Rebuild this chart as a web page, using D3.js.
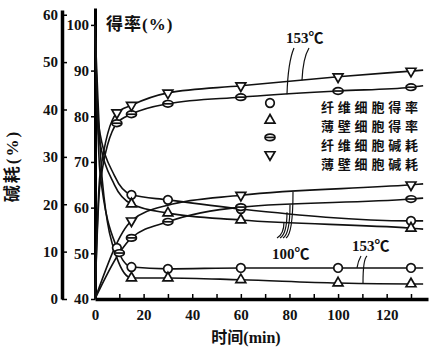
<!DOCTYPE html>
<html>
<head>
<meta charset="utf-8">
<script src="https://cdnjs.cloudflare.com/ajax/libs/d3/7.8.5/d3.min.js"></script>
<style>
  body { margin: 0; background: #fff; }
  text { fill: #111; }
</style>
</head>
<body>
<svg id="chart"></svg>
<script>
// time (min) and values
// 得率 (right-hand scale, 40-100 %)
const tYieldFiber153 = [0, 2, 9, 15, 30, 60, 100, 130, 135];
const vYieldFiber153 = [100, 68, 51.2, 47.0, 46.6, 46.8, 46.8, 46.8, 46.8];
const tYieldThin153 = [0, 3, 9, 15, 30, 60, 100, 130, 135];
const vYieldThin153 = [100, 66, 49, 44.6, 44.6, 44.2, 43.5, 43.3, 43.3];
const tYieldFiber100 = [0, 1.5, 8, 15, 30, 60, 130, 135];
const vYieldFiber100 = [100, 78, 67, 62.8, 61.7, 59.7, 57.1, 57.1];
const tYieldThin100 = [0, 1.5, 8, 15, 30, 60, 130, 135];
const vYieldThin100 = [100, 76, 65, 60.8, 58.8, 57.3, 55.5, 55.3];
// 碱耗 (left-hand scale, 0-60 %)
const tAlkFiber153 = [0, 2, 9, 15, 30, 60, 100, 130, 135];
const vAlkFiber153 = [0, 24, 37.1, 39.0, 41.2, 42.6, 43.9, 44.7, 45.0];
const tAlkThin153 = [0, 2, 9, 15, 30, 60, 100, 130, 135];
const vAlkThin153 = [0, 26, 39.3, 40.9, 43.5, 45.0, 46.9, 48.1, 48.3];
const tAlkFiber100 = [0, 10, 15, 30, 60, 130, 135];
const vAlkFiber100 = [0, 9.7, 12.9, 16.3, 19.4, 21.1, 21.3];
const tAlkThin100 = [0, 15, 30, 60, 130, 135];
const vAlkThin100 = [0, 16.5, 19.8, 21.9, 24.1, 24.3];

// times where a marker is printed
const markFull = [9, 15, 30, 60, 100, 130];
const mark153Thin = [15, 30, 60, 100, 130];
const mark100 = [15, 30, 60, 130];
const mark100AlkFiber = [10, 15, 30, 60, 130];
const mark100AlkThin = [15, 60, 130];

const leftTicks = [0, 10, 20, 30, 40, 50, 60];
const rightTicks = [40, 50, 60, 70, 80, 90, 100];
const xTicks = [0, 10, 20, 30, 40, 50, 60, 70, 80, 90, 100, 110, 120, 130];

const legendNames = ["纤维细胞得率", "薄壁细胞得率", "纤维细胞碱耗", "薄壁细胞碱耗"];
const legendShapes = ["circle", "up", "half", "down"];

const width = 432, height = 352;
const svg = d3.select("#chart").attr("width", width).attr("height", height);

const x = d3.scaleLinear().domain([0, 137]).range([95, 428]);
const yL = d3.scaleLinear().domain([0, 61]).range([299, 10]);
const yR = d3.scaleLinear().domain([40, 103.7]).range([299, 8]);

const series = [
  { t: tYieldFiber153, v: vYieldFiber153, y: yR, shape: "circle", marks: markFull },
  { t: tYieldThin153, v: vYieldThin153, y: yR, shape: "up", marks: mark153Thin },
  { t: tYieldFiber100, v: vYieldFiber100, y: yR, shape: "circle", marks: mark100 },
  { t: tYieldThin100, v: vYieldThin100, y: yR, shape: "up", marks: mark100 },
  { t: tAlkFiber153, v: vAlkFiber153, y: yL, shape: "half", marks: markFull },
  { t: tAlkThin153, v: vAlkThin153, y: yL, shape: "down", marks: markFull },
  { t: tAlkFiber100, v: vAlkFiber100, y: yL, shape: "half", marks: mark100AlkFiber },
  { t: tAlkThin100, v: vAlkThin100, y: yL, shape: "down", marks: mark100AlkThin },
];

const numFont = "'Liberation Serif', 'Noto Sans CJK SC', serif";
const cjkFont = "'Noto Sans CJK SC', sans-serif";

// axes
const gL = svg.append("g")
  .attr("transform", "translate(62,0)")
  .call(d3.axisLeft(yL).tickValues(leftTicks).tickSizeInner(-5).tickSizeOuter(0).tickPadding(4));
gL.select(".domain").attr("stroke-width", 3.5);
gL.selectAll(".tick line").attr("stroke-width", 1.5);

const gR = svg.append("g")
  .attr("transform", `translate(${x(0)},0)`)
  .call(d3.axisLeft(yR).tickValues(rightTicks).tickSize(4).tickSizeOuter(0).tickPadding(2));
gR.select(".domain").attr("stroke-width", 3);
gR.selectAll(".tick line").attr("stroke-width", 1.5);

const gX = svg.append("g")
  .attr("transform", "translate(0,299)")
  .call(d3.axisBottom(x).tickValues(xTicks).tickSizeInner(-5).tickSizeOuter(0).tickPadding(10)
    .tickFormat(d => d % 20 === 0 ? d : ""));
gX.select(".domain").attr("stroke-width", 3.5);
gX.selectAll(".tick line").attr("stroke-width", 1.5);

svg.selectAll(".tick text")
  .style("font-family", numFont).style("font-size", "15px").style("font-weight", "bold");

// curves
const line = s => d3.line()
  .x((d, i) => x(s.t[i]))
  .y((d, i) => s.y(s.v[i]))
  .curve(d3.curveMonotoneX)(s.t);

svg.append("g").selectAll("path")
  .data(series).enter().append("path")
  .attr("d", line)
  .attr("fill", "none").attr("stroke", "#111").attr("stroke-width", 1.6);

// markers
function drawMarker(g, shape, cx, cy) {
  const m = g.append("g").attr("transform", `translate(${cx},${cy})`)
    .attr("fill", "#fff").attr("stroke", "#111").attr("stroke-width", 1.7);
  if (shape === "circle") {
    m.append("circle").attr("r", 4.3);
  } else if (shape === "up") {
    m.append("path").attr("d", d3.symbol(d3.symbolTriangle, 42)());
  } else if (shape === "down") {
    m.append("path").attr("d", d3.symbol(d3.symbolTriangle, 42)()).attr("transform", "rotate(180)");
  } else {
    m.append("ellipse").attr("rx", 5).attr("ry", 3.3);
    m.append("line").attr("x1", -5).attr("x2", 5);
  }
}

const gM = svg.append("g");
series.forEach(s => {
  s.marks.forEach(t => {
    const i = s.t.indexOf(t);
    drawMarker(gM, s.shape, x(t), s.y(s.v[i]));
  });
});

// legend
const gLeg = svg.append("g");
legendNames.forEach((name, i) => {
  drawMarker(gLeg, legendShapes[i], 270, 103 + 17.2 * i);
  gLeg.append("text")
    .attr("x", 321).attr("y", 112 + 19 * i)
    .style("font-family", cjkFont).style("font-size", "13px").style("font-weight", "bold")
    .style("letter-spacing", "3.8px")
    .text(name);
});

// titles
svg.append("text").attr("x", 106).attr("y", 30)
  .style("font-family", numFont).style("font-size", "17px").style("font-weight", "bold")
  .style("letter-spacing", "1px")
  .text("得率(%)");

svg.append("text").attr("transform", "translate(18,166) rotate(-90)")
  .attr("text-anchor", "middle")
  .style("font-family", numFont).style("font-size", "17px").style("font-weight", "bold")
  .style("letter-spacing", "2px")
  .text("碱耗(%)");

svg.append("text").attr("x", 246).attr("y", 343).attr("text-anchor", "middle")
  .style("font-family", numFont).style("font-size", "16px").style("font-weight", "bold")
  .text("时间(min)");

// temperature labels and leader lines
const at = (s, t) => s.y(d3.scaleLinear().domain(s.t).range(s.v)(t));
const tOf = px => x.invert(px);
const gA = svg.append("g").attr("fill", "none").attr("stroke", "#111").attr("stroke-width", 1.2);
function leader(x0, y0, cx, cy, x1, y1) {
  const p = d3.path();
  p.moveTo(x0, y0);
  p.quadraticCurveTo(cx, cy, x1, y1);
  gA.append("path").attr("d", p.toString());
}

const labelStyle = t => t.style("font-family", numFont).style("font-size", "15px").style("font-weight", "bold");

svg.append("text").attr("x", 286).attr("y", 43).call(labelStyle).text("153℃");
leader(294, 48, 288, 62, 287, at(series[4], tOf(287)));
leader(309, 48, 303, 58, 302, at(series[5], tOf(302)));

svg.append("text").attr("x", 272).attr("y", 259).call(labelStyle).text("100℃");
[[284, 3], [287, 2], [290, 6], [293, 7]].forEach(([px, k]) => {
  const top = at(series[k], tOf(px));
  leader(px - 7, 238, px, 234, px, top);
});

svg.append("text").attr("x", 352).attr("y", 251).call(labelStyle).text("153℃");
leader(361, 256, 358, 261, 357, at(series[0], tOf(357)));
leader(367, 256, 363, 259, 363, at(series[1], tOf(363)));
</script>
</body>
</html>
